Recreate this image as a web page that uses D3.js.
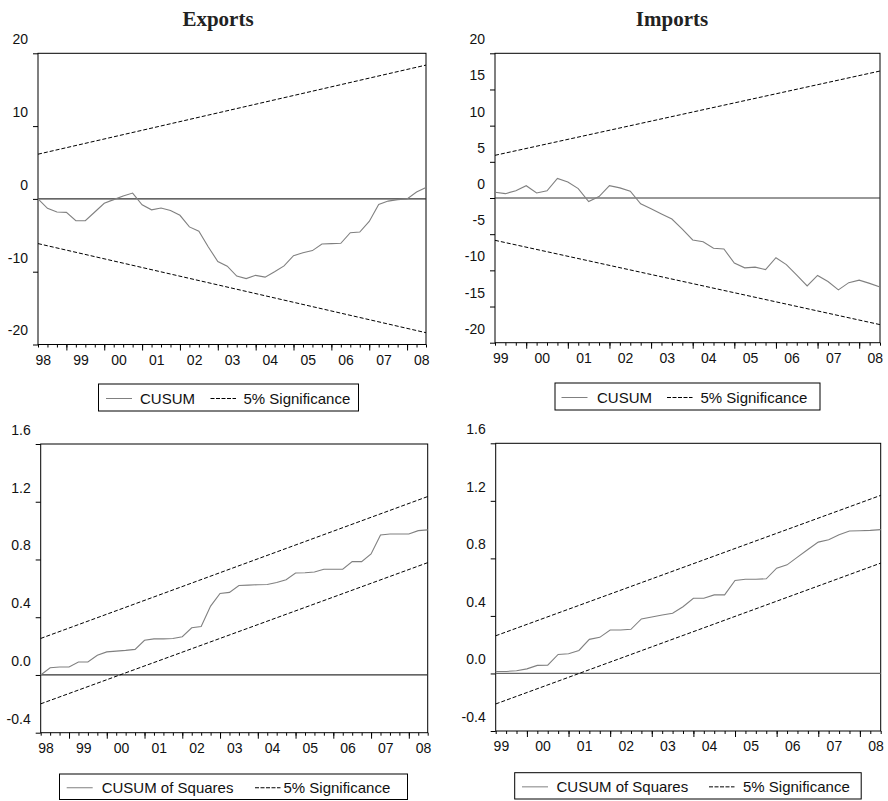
<!DOCTYPE html>
<html>
<head>
<meta charset="utf-8">
<script src="https://cdn.jsdelivr.net/npm/d3@7"></script>
<style>
  html, body { margin: 0; padding: 0; background: #fff; }
  svg { display: block; }
</style>
</head>
<body>
<script>
// ---------------- DATA ----------------
const panelTitles = ["Exports", "Imports"];

// Quarterly CUSUM, Exports: 1998Q2 .. 2008Q3 (42 obs)
const exportsStart = 1998.25;
const exportsCusum = [0, -1.3, -1.8, -1.85, -3.0, -3.0, -1.8, -0.6, -0.1, 0.4, 0.8,
  -0.8, -1.5, -1.25, -1.6, -2.25, -3.85, -4.45, -6.6, -8.6, -9.25, -10.6, -10.95,
  -10.5, -10.75, -10.0, -9.2, -7.8, -7.4, -7.1, -6.2, -6.15, -6.1, -4.65, -4.55,
  -3.1, -0.75, -0.3, -0.1, 0, 0.95, 1.55];
const exportsCusumUpper = [6.14, 18.38];
const exportsCusumLower = [-6.14, -18.38];

// Quarterly CUSUM, Imports: 1999Q2 .. 2008Q3 (38 obs)
const importsStart = 1999.25;
const importsCusum = [0.8, 0.6, 1.0, 1.7, 0.7, 1.0, 2.7, 2.2, 1.3, -0.5, 0.2,
  1.7, 1.4, 0.95, -0.8, -1.5, -2.2, -2.9, -4.3, -5.8, -6.05, -6.95, -7.05,
  -9.0, -9.65, -9.55, -9.9, -8.25, -9.2, -10.65, -12.15, -10.7, -11.55, -12.7,
  -11.7, -11.35, -11.8, -12.3];
const importsCusumUpper = [5.9, 17.55];
const importsCusumLower = [-5.85, -17.5];

// CUSUM of squares, Exports
const exportsCusumSq = [0, 0.05, 0.055, 0.055, 0.09, 0.09, 0.137, 0.16, 0.165, 0.17,
  0.177, 0.24, 0.25, 0.25, 0.253, 0.265, 0.327, 0.336, 0.477, 0.565, 0.572, 0.62,
  0.622, 0.625, 0.627, 0.64, 0.66, 0.706, 0.708, 0.713, 0.732, 0.732, 0.732, 0.785,
  0.785, 0.838, 0.97, 0.976, 0.976, 0.976, 1.0, 1.005];
const exportsSqUpper = [0.253, 1.236];
const exportsSqLower = [-0.2, 0.778];

// CUSUM of squares, Imports
const importsCusumSq = [0.014, 0.014, 0.019, 0.032, 0.056, 0.058, 0.132, 0.137, 0.16,
  0.237, 0.251, 0.302, 0.302, 0.307, 0.379, 0.393, 0.406, 0.418, 0.464, 0.523, 0.523,
  0.546, 0.546, 0.646, 0.655, 0.655, 0.658, 0.732, 0.755, 0.809, 0.862, 0.913, 0.93,
  0.964, 0.99, 0.992, 0.995, 1.0];
const importsSqUpper = [0.262, 1.238];
const importsSqLower = [-0.212, 0.767];

const cusumTicks = [-20, -10, 0, 10, 20];
const cusumTicksImports = [-20, -15, -10, -5, 0, 5, 10, 15, 20];
const sqTicks = [-0.4, 0.0, 0.4, 0.8, 1.2, 1.6];
const exportsYearLabels = ["98", "99", "00", "01", "02", "03", "04", "05", "06", "07", "08"];
const importsYearLabels = ["99", "00", "01", "02", "03", "04", "05", "06", "07", "08"];
const legendCusum = ["CUSUM", "5% Significance"];
const legendSq = ["CUSUM of Squares", "5% Significance"];

// ---------------- DRAWING ----------------
const FONT = "'Liberation Sans', Arial, Helvetica, sans-serif";
const svg = d3.select("body").append("svg").attr("width", 888).attr("height", 801);

function drawPanel(c) {
  const g = svg.append("g");
  const n = c.values.length;
  const endT = c.start + (n - 1) / 4;
  const x = d3.scaleLinear().domain([c.start, endT]).range([c.L, c.R]);
  const y = d3.scaleLinear().domain(c.yDomain).range([c.B, c.T]);
  const tOf = i => c.start + i / 4;

  // frame
  g.append("rect").attr("x", c.L).attr("y", c.T).attr("width", c.R - c.L).attr("height", c.B - c.T)
    .attr("fill", "none").attr("stroke", "#000").attr("stroke-width", 1);

  // y axis
  const ya = g.append("g").attr("transform", `translate(${c.L},0)`)
    .call(d3.axisLeft(y).tickValues(c.yTicks).tickSize(5).tickSizeOuter(0).tickPadding(5).tickFormat(c.fmt));
  ya.select(".domain").remove();
  ya.selectAll("line").attr("stroke", "#000");
  ya.selectAll("text").attr("y", -14).attr("font-size", 14).attr("font-family", FONT).attr("fill", "#111");

  // x axis: quarter minor ticks, year major ticks, labels mid-year
  const quarters = d3.range(n).map(tOf);
  const years = d3.range(Math.ceil(c.start), Math.floor(endT) + 1);
  const xa1 = g.append("g").attr("transform", `translate(0,${c.B})`)
    .call(d3.axisBottom(x).tickValues(quarters).tickSize(3).tickSizeOuter(0).tickFormat(""));
  xa1.select(".domain").remove();
  const xa2 = g.append("g").attr("transform", `translate(0,${c.B})`)
    .call(d3.axisBottom(x).tickValues(years).tickSize(6).tickSizeOuter(0).tickFormat(""));
  xa2.select(".domain").remove();
  g.selectAll("g.tick line").attr("stroke", "#000");
  const firstYear = Math.floor(c.start);
  const labelPos = c.yearLabels.map((s, i) => firstYear + i + 0.375);
  const xa3 = g.append("g").attr("transform", `translate(0,${c.B})`)
    .call(d3.axisBottom(x).tickValues(labelPos).tickSize(0).tickPadding(10.5)
      .tickFormat((d, i) => c.yearLabels[i]));
  xa3.select(".domain").remove();
  xa3.selectAll("text").attr("font-size", 14).attr("font-family", FONT).attr("fill", "#111");

  // zero line
  g.append("line").attr("x1", c.L).attr("x2", c.R).attr("y1", y(0)).attr("y2", y(0))
    .attr("stroke", c.zeroColor || "#333").attr("stroke-width", 1.2);

  // bounds
  [c.upper, c.lower].forEach(b => {
    g.append("line").attr("x1", x(c.start)).attr("x2", x(endT)).attr("y1", y(b[0])).attr("y2", y(b[1]))
      .attr("stroke", "#000").attr("stroke-width", 1).attr("stroke-dasharray", "4,2");
  });

  // series
  const line = d3.line().x((d, i) => x(tOf(i))).y(d => y(d));
  g.append("path").datum(c.values).attr("d", line).attr("fill", "none")
    .attr("stroke", "#808080").attr("stroke-width", 1.1);

  // title
  if (c.title) {
    g.append("text").attr("x", c.titleX).attr("y", 26).attr("text-anchor", "middle")
      .attr("font-family", "'Liberation Serif', 'Times New Roman', serif").attr("font-weight", "bold")
      .attr("font-size", 21).attr("fill", "#222").text(c.title);
  }

  // legend
  const lg = c.legend;
  g.append("rect").attr("x", lg.x).attr("y", lg.y).attr("width", lg.w).attr("height", lg.h)
    .attr("fill", "#fff").attr("stroke", "#000").attr("stroke-width", 1);
  const cy = lg.y + lg.h / 2 + 1;
  g.append("line").attr("x1", lg.s1).attr("x2", lg.s1 + 26).attr("y1", cy).attr("y2", cy)
    .attr("stroke", "#808080").attr("stroke-width", 1);
  g.append("text").attr("x", lg.t1).attr("y", cy + 5.5).attr("font-size", 15).attr("font-family", FONT)
    .attr("fill", "#111").text(lg.labels[0]);
  g.append("line").attr("x1", lg.s2).attr("x2", lg.s2 + 25.5).attr("y1", cy).attr("y2", cy)
    .attr("stroke", "#000").attr("stroke-width", 1).attr("stroke-dasharray", "4,1.5");
  g.append("text").attr("x", lg.t2).attr("y", cy + 5.5).attr("font-size", 15).attr("font-family", FONT)
    .attr("fill", "#111").text(lg.labels[1]);
}

const intFmt = d => String(d);
const decFmt = d => d.toFixed(1);

drawPanel({
  values: exportsCusum, start: exportsStart, upper: exportsCusumUpper, lower: exportsCusumLower,
  L: 38, R: 426, T: 53.3, B: 344.5, yDomain: [-20, 20], yTicks: cusumTicks, fmt: intFmt,
  yearLabels: exportsYearLabels, title: panelTitles[0], titleX: 218,
  legend: { x: 98.5, y: 384, w: 260, h: 27, s1: 106, t1: 140, s2: 210.5, t2: 243.5, labels: legendCusum }
});
drawPanel({
  values: importsCusum, start: importsStart, upper: importsCusumUpper, lower: importsCusumLower,
  L: 495, R: 880, T: 53.3, B: 342.7, yDomain: [-20, 20], yTicks: cusumTicksImports, fmt: intFmt,
  yearLabels: importsYearLabels, title: panelTitles[1], titleX: 672,
  legend: { x: 555, y: 383, w: 265, h: 27, s1: 561.5, t1: 597, s2: 667, t2: 700.5, labels: legendCusum }
});
drawPanel({
  values: exportsCusumSq, start: exportsStart, upper: exportsSqUpper, lower: exportsSqLower,
  L: 40.7, R: 427.7, T: 444, B: 732.7, yDomain: [-0.4, 1.6], yTicks: sqTicks, fmt: decFmt,
  yearLabels: exportsYearLabels,
  legend: { x: 59.5, y: 774, w: 348, h: 25.5, s1: 66.7, t1: 101.7, s2: 255, t2: 283.5, labels: legendSq }
});
drawPanel({
  values: importsCusumSq, start: importsStart, upper: importsSqUpper, lower: importsSqLower,
  L: 495.7, R: 880.7, T: 443.3, B: 731, yDomain: [-0.4, 1.6], yTicks: sqTicks, fmt: decFmt,
  yearLabels: importsYearLabels, zeroColor: "#666",
  legend: { x: 514.7, y: 772.7, w: 346.5, h: 26.3, s1: 522, t1: 556.5, s2: 709, t2: 743, labels: legendSq }
});
</script>
</body>
</html>
